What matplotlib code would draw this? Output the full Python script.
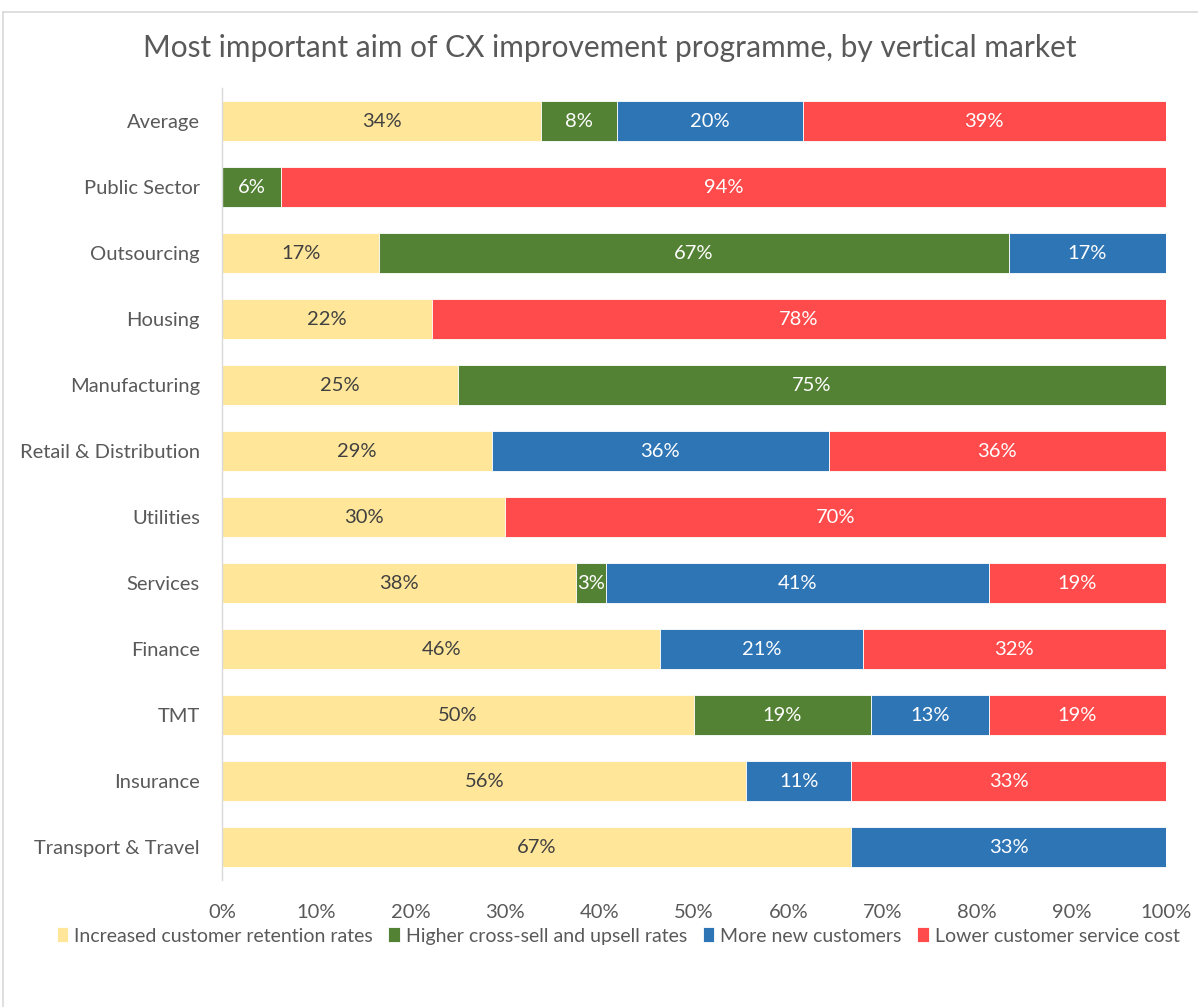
import matplotlib
matplotlib.use("Agg")
import matplotlib.pyplot as plt
from matplotlib.lines import Line2D
import numpy as np

plt.rcParams['font.family'] = ['Lato', 'DejaVu Sans']

categories = ["Average", "Public Sector", "Outsourcing", "Housing", "Manufacturing",
              "Retail & Distribution", "Utilities", "Services", "Finance", "TMT",
              "Insurance", "Transport & Travel"]
series_names = ["Increased customer retention rates", "Higher cross-sell and upsell rates",
                "More new customers", "Lower customer service cost"]
retention = [33.8, 0, 16.67, 22.22, 25.0, 28.57, 30.0, 37.5, 46.43, 50.0, 55.56, 66.67]
crosssell = [8.0, 6.25, 66.67, 0, 75.0, 0, 0, 3.125, 0, 18.75, 0, 0]
newcust = [19.7, 0, 16.67, 0, 0, 35.71, 0, 40.625, 21.43, 12.5, 11.11, 33.33]
servicecost = [38.5, 93.75, 0, 77.78, 0, 35.71, 70.0, 18.75, 32.14, 18.75, 33.33, 0]
xticks = [0, 10, 20, 30, 40, 50, 60, 70, 80, 90, 100]

colors = ["#FFE699", "#548235", "#2E75B6", "#FF4B4B"]
label_colors = ["#404040", "white", "white", "white"]

fig = plt.figure(figsize=(11.98, 10.07), dpi=100)
ax = fig.add_axes([222/1198, 1-880/1007, (1166-222)/1198, (880-88)/1007])

y = np.arange(len(categories))
left = np.zeros(len(categories))
for vals, col, lc, name in zip([retention, crosssell, newcust, servicecost], colors, label_colors, series_names):
    vals = np.array(vals, dtype=float)
    ax.barh(y, vals, left=left, height=0.6, color=col, edgecolor="white", linewidth=0.6, label=name)
    for yi, (l, v) in enumerate(zip(left, vals)):
        if v > 0:
            ax.text(l + v/2, yi, f"{int(v + 0.5)}%", ha="center", va="center",
                    color=lc, fontsize=14.5)
    left += vals

ax.set_ylim(len(categories)-0.5, -0.5)
ax.set_xlim(0, 100)
ax.set_yticks(y)
ax.set_yticklabels(categories, fontsize=14.5, color="#595959")
ax.set_xticks(xticks)
ax.set_xticklabels([f"{t}%" for t in xticks], fontsize=14.5, color="#595959")
ax.tick_params(axis="both", length=0)
ax.tick_params(axis="y", pad=16)
ax.tick_params(axis="x", pad=17)
for s in ["top", "right", "bottom"]:
    ax.spines[s].set_visible(False)
ax.spines["left"].set_color("#D9D9D9")
ax.spines["left"].set_linewidth(1)

fig.text(610/1198, 1-48/1007, "Most important aim of CX improvement programme, by vertical market",
         ha="center", va="center", fontsize=21.5, color="#595959")

leg = fig.legend(loc="center", bbox_to_anchor=(618/1198, 1-936/1007), ncol=4, frameon=False,
                 fontsize=14, handlelength=0.6, handleheight=0.8, handletextpad=0.3,
                 columnspacing=0.8, labelcolor="#595959")

fig.add_artist(Line2D([3/1198, 3/1198], [0, 1-12/1007], transform=fig.transFigure, color="#D9D9D9", lw=1.2))
fig.add_artist(Line2D([3/1198, 1], [1-12/1007, 1-12/1007], transform=fig.transFigure, color="#D9D9D9", lw=1.2))

fig.savefig("out.png", dpi=100)
